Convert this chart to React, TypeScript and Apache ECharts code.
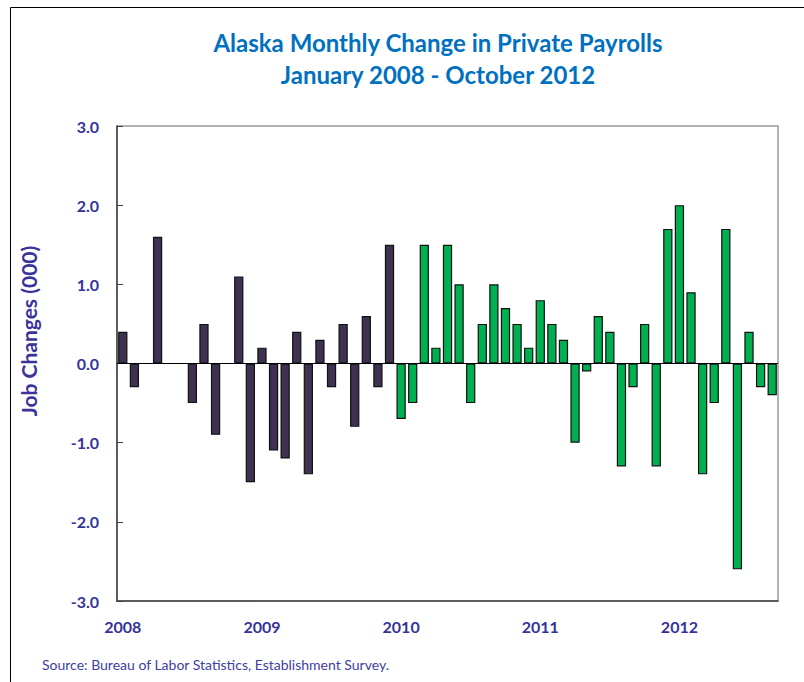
import React, { useEffect, useRef } from "react";
import * as echarts from "echarts";

const years = ["2008", "2009", "2010", "2011", "2012"];
const monthNames = ["Jan", "Feb", "Mar", "Apr", "May", "Jun", "Jul", "Aug", "Sep", "Oct", "Nov", "Dec"];

const values2008 = [0.4, -0.3, 0, 1.6, 0, 0, -0.5, 0.5, -0.9, 0, 1.1, -1.5];
const values2009 = [0.2, -1.1, -1.2, 0.4, -1.4, 0.3, -0.3, 0.5, -0.8, 0.6, -0.3, 1.5];
const values2010 = [-0.7, -0.5, 1.5, 0.2, 1.5, 1.0, -0.5, 0.5, 1.0, 0.7, 0.5, 0.2];
const values2011 = [0.8, 0.5, 0.3, -1.0, -0.1, 0.6, 0.4, -1.3, -0.3, 0.5, -1.3, 1.7];
const values2012 = [2.0, 0.9, -1.4, -0.5, 1.7, -2.6, 0.4, -0.3, -0.4];

const yTicks = [-3, -2, -1, 0, 1, 2, 3];

const COLOR_EARLY = "#3f3151";
const COLOR_LATE = "#00b050";
const TEXT_BLUE = "#333399";

export default function App() {
  const ref = useRef<HTMLDivElement>(null);

  useEffect(() => {
    if (!ref.current) return;
    const chart = echarts.init(ref.current, null, { renderer: "svg" });

    const yearly = [values2008, values2009, values2010, values2011, values2012];
    const categories: string[] = [];
    const data: any[] = [];
    yearly.forEach((vals, yi) => {
      vals.forEach((v, mi) => {
        categories.push(monthNames[mi] + " " + years[yi]);
        data.push({
          value: v,
          itemStyle: { color: yi < 2 ? COLOR_EARLY : COLOR_LATE },
        });
      });
    });

    const font = "Lato, 'Open Sans', sans-serif";

    chart.setOption({
      animation: false,
      backgroundColor: "#ffffff",
      graphic: [
        {
          type: "rect",
          shape: { x: 10.5, y: 7.5, width: 900, height: 900 },
          style: { fill: "none", stroke: "#000000", lineWidth: 1 },
          silent: true,
        },
        {
          type: "text",
          x: 438,
          y: 42,
          style: {
            text: "Alaska Monthly Change in Private Payrolls",
            font: "bold 24px " + font,
            fill: "#0070c0",
            align: "center",
            verticalAlign: "middle",
          },
        },
        {
          type: "text",
          x: 438,
          y: 74,
          style: {
            text: "January 2008 - October 2012",
            font: "bold 24px " + font,
            fill: "#0070c0",
            align: "center",
            verticalAlign: "middle",
          },
        },
        {
          type: "text",
          x: 28,
          y: 331,
          rotation: Math.PI / 2,
          style: {
            text: "Job Changes (000)",
            font: "bold 21px " + font,
            fill: "#3a3399",
            align: "center",
            verticalAlign: "middle",
          },
        },
        {
          type: "text",
          x: 42,
          y: 664,
          style: {
            text: "Source: Bureau of Labor Statistics, Establishment Survey.",
            font: "14px " + font,
            fill: "#4040a0",
            align: "left",
            verticalAlign: "middle",
          },
        },
      ],
      grid: {
        left: 117,
        right: 26,
        top: 126,
        bottom: 81,
        show: true,
        borderColor: "#9a9a9a",
        borderWidth: 1.5,
        backgroundColor: "transparent",
      },
      xAxis: {
        type: "category",
        data: categories,
        boundaryGap: true,
        axisLine: { onZero: false, lineStyle: { color: "#404040", width: 1.5 } },
        axisTick: { show: false },
        axisLabel: {
          interval: (index: number) => index % 12 === 0,
          formatter: (val: string) => val.split(" ")[1],
          fontFamily: font,
          fontSize: 16,
          fontWeight: "bold",
          color: TEXT_BLUE,
          margin: 17,
        },
        splitLine: { show: false },
      },
      yAxis: {
        type: "value",
        min: yTicks[0],
        max: yTicks[yTicks.length - 1],
        interval: 1,
        axisLine: { show: true, lineStyle: { color: "#404040", width: 1.5 } },
        axisTick: { show: true, inside: true, length: 6, lineStyle: { color: "#404040" } },
        axisLabel: {
          formatter: (v: number) => v.toFixed(1),
          fontFamily: font,
          fontSize: 16,
          fontWeight: "bold",
          color: TEXT_BLUE,
          margin: 18,
        },
        splitLine: { show: false },
      },
      series: [
        {
          type: "bar",
          data,
          barWidth: "80%",
          itemStyle: { borderColor: "#111111", borderWidth: 1.2 },
          markLine: {
            silent: true,
            symbol: "none",
            label: { show: false },
            lineStyle: { color: "#000000", width: 1, type: "solid" },
            data: [{ yAxis: 0 }],
          },
        },
      ],
    });

    return () => chart.dispose();
  }, []);

  return (
    <div
      ref={ref}
      style={{ position: "fixed", left: 0, top: 0, width: 804, height: 682 }}
    />
  );
}
